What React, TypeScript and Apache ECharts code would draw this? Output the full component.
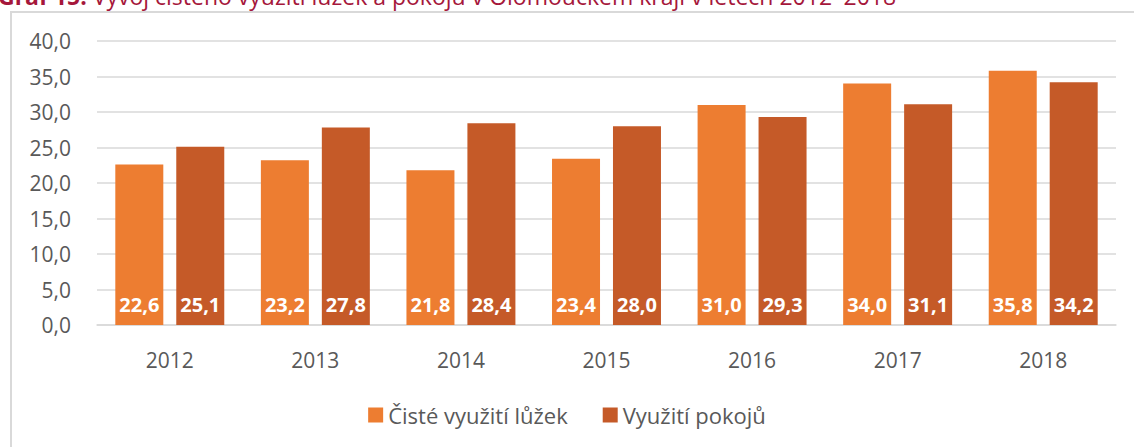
import React, { useEffect, useRef } from "react";
import * as echarts from "echarts";

const categories = ["2012", "2013", "2014", "2015", "2016", "2017", "2018"];
const luzka = [22.6, 23.2, 21.8, 23.4, 31.0, 34.0, 35.8];
const pokoje = [25.1, 27.8, 28.4, 28.0, 29.3, 31.1, 34.2];
const seriesNames = ["Čisté využití lůžek", "Využití pokojů"];
const titleBold = "Graf 15:";
const titleText = " Vývoj čistého využití lůžek a pokojů v Olomouckém kraji v letech 2012–2018";

const fmt = (v: number) => v.toFixed(1).replace(".", ",");

export default function App() {
  const ref = useRef<HTMLDivElement>(null);
  useEffect(() => {
    document.body.style.margin = "0";
    const chart = echarts.init(ref.current!, undefined, { renderer: "svg" });
    const font = "'Open Sans', 'Noto Sans', sans-serif";
    const label = {
      show: true,
      position: "insideBottom" as const,
      distance: 11,
      color: "#ffffff",
      fontWeight: "bold" as const,
      fontSize: 20,
      fontFamily: font,
      formatter: (p: any) => fmt(p.value),
    };
    chart.setOption({
      animation: false,
      textStyle: { fontFamily: font },
      graphic: [
        {
          type: "rect",
          shape: { x: 11, y: 12, width: 1200, height: 500 },
          style: { fill: "none", stroke: "#d9d9d9", lineWidth: 2 },
          silent: true,
        },
        {
          type: "text",
          x: -2,
          y: -4,
          style: {
            rich: {
              b: { fontWeight: "bold", fontSize: 23, fill: "#A5173B", fontFamily: font },
              n: { fontSize: 23, fill: "#A5173B", fontFamily: font },
            },
            text: `{b|${titleBold}}{n|${titleText}}`,
            verticalAlign: "middle",
          },
        },
      ],
      legend: {
        data: seriesNames,
        left: "center",
        top: 399,
        itemWidth: 15,
        itemHeight: 15,
        itemGap: 35,
        icon: "rect",
        textStyle: { fontSize: 22, color: "#595959", fontFamily: font },
      },
      grid: { left: 97, right: 18, top: 41, bottom: 122 },
      xAxis: {
        type: "category",
        data: categories,
        axisLine: { lineStyle: { color: "#d9d9d9", width: 1.5 } },
        axisTick: { show: false },
        axisLabel: { fontSize: 21, color: "#595959", margin: 24, fontFamily: font },
      },
      yAxis: {
        type: "value",
        min: 0,
        max: 40,
        interval: 5,
        axisLine: { show: false },
        axisTick: { show: false },
        splitLine: { lineStyle: { color: "#d9d9d9", width: 1.5 } },
        axisLabel: {
          fontSize: 21,
          color: "#595959",
          margin: 26,
          fontFamily: font,
          formatter: (v: number) => fmt(v),
        },
      },
      series: [
        {
          name: seriesNames[0],
          type: "bar",
          data: luzka,
          barWidth: 48,
          barGap: "27%",
          itemStyle: { color: "#ED7D31" },
          label,
        },
        {
          name: seriesNames[1],
          type: "bar",
          data: pokoje,
          barWidth: 48,
          barGap: "27%",
          itemStyle: { color: "#C55A28" },
          label,
        },
      ],
    });
    return () => chart.dispose();
  }, []);
  return <div ref={ref} style={{ width: 1134, height: 447 }} />;
}
